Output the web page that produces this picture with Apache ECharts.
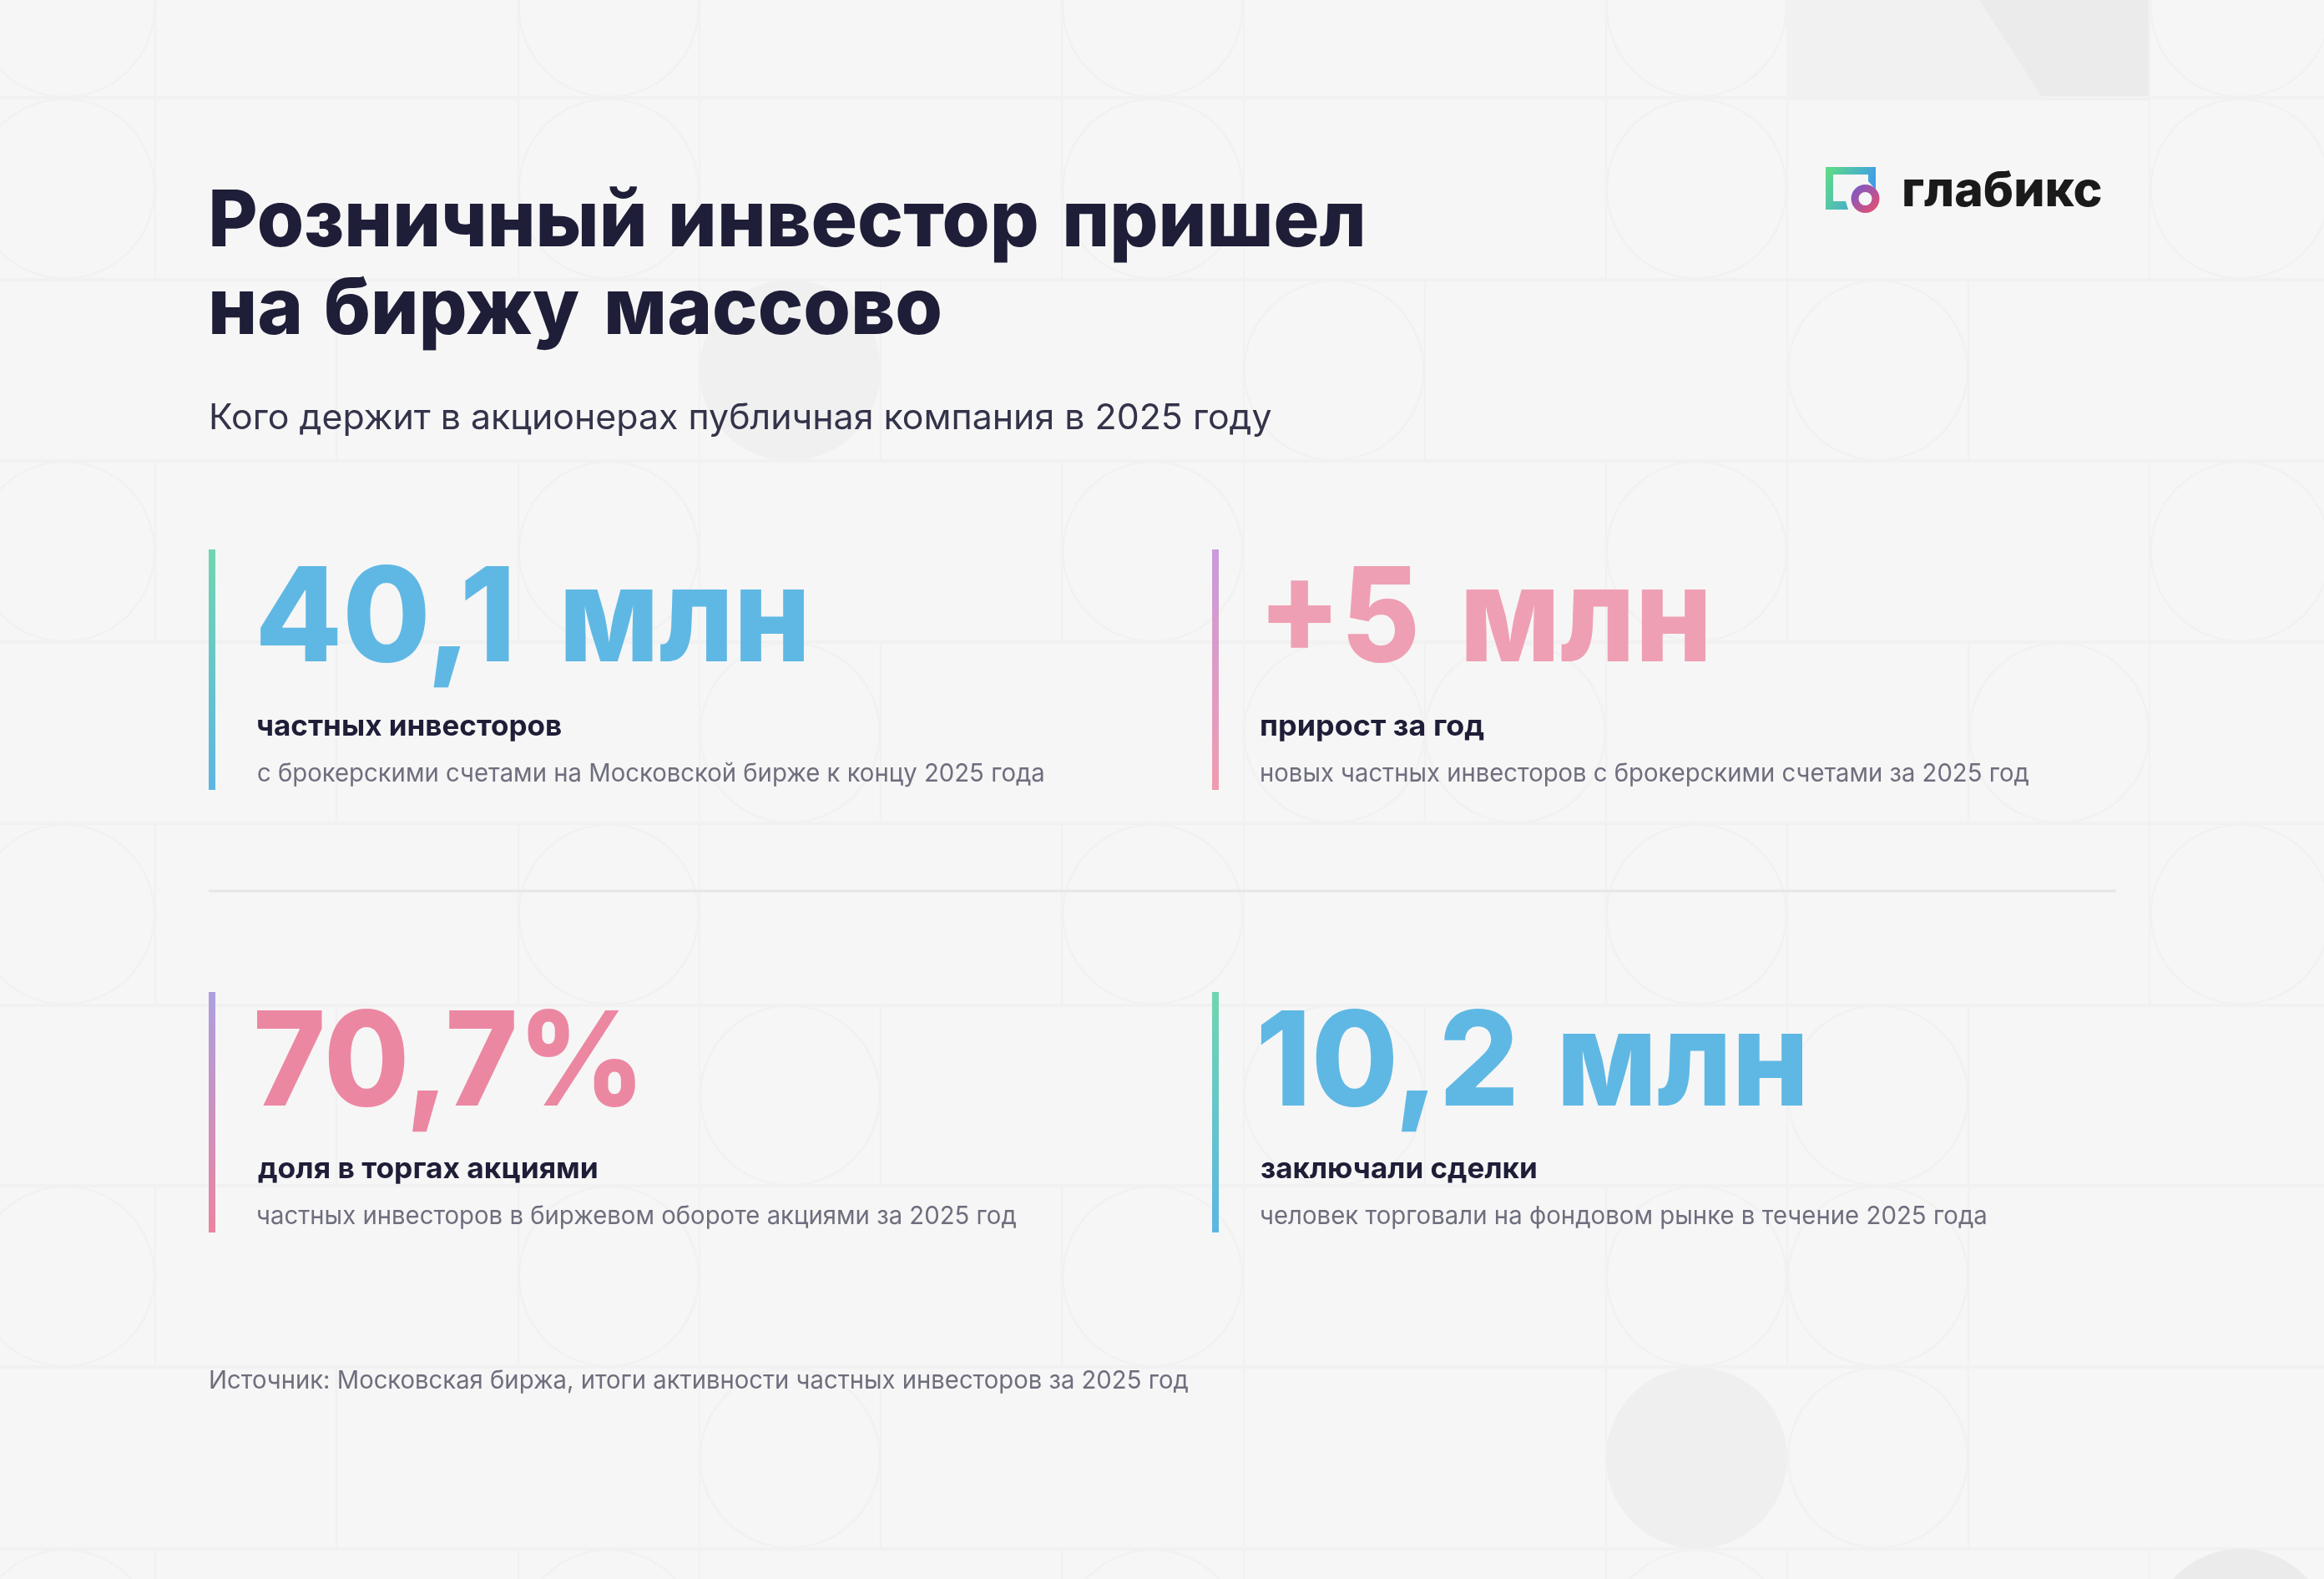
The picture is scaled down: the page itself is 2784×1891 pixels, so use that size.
<!DOCTYPE html>
<html><head><meta charset="utf-8">
<style>html,body{margin:0;padding:0;background:#f6f6f6}#c{width:2784px;height:1891px}</style>
<script src="https://cdn.jsdelivr.net/npm/echarts@6/dist/echarts.min.js"></script>
</head><body><div id="c"></div>
<script>
// ---- content ----
const titleLines = ['Розничный инвестор пришел', 'на биржу массово'];
const subtitle = 'Кого держит в акционерах публичная компания в 2025 году';
const kpiValues = ['40,1 млн', '+5 млн', '70,7%', '10,2 млн'];
const kpiLabels = ['частных инвесторов', 'прирост за год', 'доля в торгах акциями', 'заключали сделки'];
const kpiNotes = [
  'с брокерскими счетами на Московской бирже к концу 2025 года',
  'новых частных инвесторов с брокерскими счетами за 2025 год',
  'частных инвесторов в биржевом обороте акциями за 2025 год',
  'человек торговали на фондовом рынке в течение 2025 года'
];
const sourceNote = 'Источник: Московская биржа, итоги активности частных инвесторов за 2025 год';
const brand = 'глабикс';

// ---- style / layout ----
const FONT = 'Inter';
const BG = '#f6f6f6', LINE = '#f1f1f1';
const kpiColors = ['#5fb8e4', '#ef9fb3', '#ec87a2', '#5fb8e4'];
const barGrad = [['#6fd6b0', '#5cb6e4'], ['#c99bdc', '#f09cb0'], ['#ac9fe0', '#ec83a0'], ['#6fd6b0', '#5cb6e4']];
const blockX = [250, 1452, 250, 1452];
const blockTop = [658, 658, 1188, 1188];
const blockH = 288;
// ink extents [x, width] of each whitespace-separated word
const titleBoxes = [
  [[254, 517], [805, 437], [1277, 355]],
  [[254, 104], [391, 303], [728, 398]]
];
const valueBoxes = [
  [[312, 298], [677, 286]],
  [[1519, 177], [1756, 287]],
  [[308, 453]],
  [[1510, 303], [1872, 287]]
];
const labelBox = [[309, 363], [1511, 267], [309, 406], [1511, 329]];
const noteBox = [[309, 941], [1511, 919], [309, 908], [1511, 868]];

const rowY = [-100, 117, 335, 552, 769, 986, 1204, 1420, 1637, 1855, 2072];
const gridX = i => -31 + 217.2 * i;
const rowCuts = [
  [186, 621, 838, 1272, 1490, 1924, 2141, 2575],
  [186, 621, 838, 1272, 1490, 1924, 2141, 2575],
  [403, 838, 1055, 1490, 1707, 2141, 2358],
  [186, 621, 838, 1272, 1490, 1924, 2141, 2575],
  [403, 838, 1055, 1490, 1707, 1924, 2358, 2575],
  [186, 621, 838, 1272, 1490, 1924, 2141, 2575],
  [403, 838, 1055, 1490, 1707, 2141, 2358],
  [186, 621, 838, 1272, 1490, 1924, 2141, 2358],
  [403, 838, 1055, 1490, 1924, 2358],
  [186, 621, 838, 1272, 1490, 1924, 2141, 2575]
];
const rowCircles = [
  [0, 3, 6, 9, 12], [0, 3, 6, 9, 12], [7, 10], [0, 3, 6, 9, 12], [4, 7, 8, 11],
  [0, 3, 6, 9, 12], [4, 7, 10], [0, 3, 6, 9, 10], [4, 10], [0, 3, 6, 9]
];
const filledCircles = [[4, 2, '#f0f0f0'], [9, 8, '#efefef'], [12, 9, '#ebebeb']];

// ---- helpers ----
const ctx = document.createElement('canvas').getContext('2d');
function fontStr(w, s) { return `${w} ${s}px ${FONT}`; }
function midOffset(w, s) {
  ctx.font = fontStr(w, s); ctx.textBaseline = 'middle';
  const m = ctx.measureText('H');
  const v = m.alphabeticBaseline;
  return (typeof v === 'number' && v !== 0) ? Math.abs(v) : s * 0.35;
}
function inkWidth(t, w, s) {
  ctx.font = fontStr(w, s); ctx.textBaseline = 'alphabetic';
  const m = ctx.measureText(t);
  return { w: m.actualBoundingBoxRight + m.actualBoundingBoxLeft, l: m.actualBoundingBoxLeft };
}
function fitText(t, x, baseline, targetW, size, weight, fill, z) {
  const ink = inkWidth(t, weight, size);
  const sx = targetW / ink.w;
  return {
    type: 'text', silent: true, z: z || 10, x: x + ink.l * sx, y: baseline - midOffset(weight, size), scaleX: sx, scaleY: 1,
    style: { text: t, fontFamily: FONT, fontWeight: weight, fontSize: size, fill: fill, align: 'left', verticalAlign: 'middle' }
  };
}
const grad = (x0, y0, x1, y1, a, b) => new echarts.graphic.LinearGradient(x0, y0, x1, y1, [{ offset: 0, color: a }, { offset: 1, color: b }]);

const els = [];
// background tile pattern
els.push({ type: 'rect', silent: true, z: 1, shape: { x: 2141, y: 0, width: 435, height: 120 }, style: { fill: '#f1f1f1' } });
els.push({ type: 'polygon', silent: true, z: 1, shape: { points: [[2371, 0], [2576, 0], [2576, 120], [2449, 120]] }, style: { fill: '#ebebeb' } });
for (let r = 1; r < rowY.length - 1; r++) {
  els.push({ type: 'line', silent: true, z: 2, shape: { x1: 0, y1: rowY[r], x2: 2784, y2: rowY[r] }, style: { stroke: LINE, lineWidth: 4 } });
}
rowCuts.forEach((cuts, r) => cuts.forEach(x => {
  els.push({ type: 'line', silent: true, z: 2, shape: { x1: x, y1: rowY[r], x2: x, y2: rowY[r + 1] }, style: { stroke: LINE, lineWidth: 2.5 } });
}));
rowCircles.forEach((cols, r) => cols.forEach(i => {
  els.push({ type: 'circle', silent: true, z: 3, shape: { cx: gridX(i) + 108.6, cy: (rowY[r] + rowY[r + 1]) / 2, r: 107.5 }, style: { fill: 'none', stroke: LINE, lineWidth: 2.5 } });
}));
filledCircles.forEach(([i, r, c]) => {
  els.push({ type: 'circle', silent: true, z: 3, shape: { cx: gridX(i) + 108.6, cy: (rowY[r] + rowY[r + 1]) / 2, r: 108.5 }, style: { fill: c } });
});

// header
titleLines.forEach((line, l) => line.split(' ').forEach((word, w) => {
  els.push(fitText(word, titleBoxes[l][w][0], 295 + 105 * l, titleBoxes[l][w][1], 94, 800, '#1e1e38'));
}));
els.push(fitText(subtitle, 253, 514, 1270, 42, 400, '#33334a'));

// logo
els.push({ type: 'polygon', silent: true, z: 10, shape: { points: [[2187, 200], [2247, 200], [2247, 227], [2238, 217], [2238, 209], [2196, 209], [2196, 241], [2211, 241], [2214, 251], [2187, 251]] }, style: { fill: grad(0, 0.1, 1, 0.6, '#5fdc84', '#3d96f2') } });
els.push({ type: 'ring', silent: true, z: 11, shape: { cx: 2234.5, cy: 238, r: 17, r0: 8 }, style: { fill: grad(0, 0, 1, 1, '#6f5ad0', '#ef4f68') } });
els.push(fitText(brand, 2281, 247, 236, 58, 800, '#1a1a1a'));

// KPI blocks
kpiValues.forEach((v, i) => {
  els.push({ type: 'rect', silent: true, z: 9, shape: { x: blockX[i], y: blockTop[i], width: 8, height: blockH }, style: { fill: grad(0, 0, 0, 1, barGrad[i][0], barGrad[i][1]) } });
  const base = blockTop[i] + 133 + (i > 1 ? 2 : 0) + 1;
  v.split(' ').forEach((part, p) => {
    els.push(fitText(part, valueBoxes[i][p][0], base, valueBoxes[i][p][1], 157, 800, kpiColors[i]));
  });
  els.push(fitText(kpiLabels[i], labelBox[i][0], blockTop[i] + 223, labelBox[i][1], 35, 700, '#1e1e38'));
  els.push(fitText(kpiNotes[i], noteBox[i][0], blockTop[i] + 278, noteBox[i][1], 30, 400, '#6e6e7e'));
});

// divider + source
els.push({ type: 'line', silent: true, z: 9, shape: { x1: 250, y1: 1067, x2: 2535, y2: 1067 }, style: { stroke: '#e6e6e6', lineWidth: 3 } });
els.push(fitText(sourceNote, 252, 1663, 1171, 30, 400, '#6e6e7e'));

const chart = echarts.init(document.getElementById('c'), null, { renderer: 'canvas', width: 2784, height: 1891 });
chart.setOption({ backgroundColor: BG, animation: false, graphic: { elements: els } });
</script></body></html>
